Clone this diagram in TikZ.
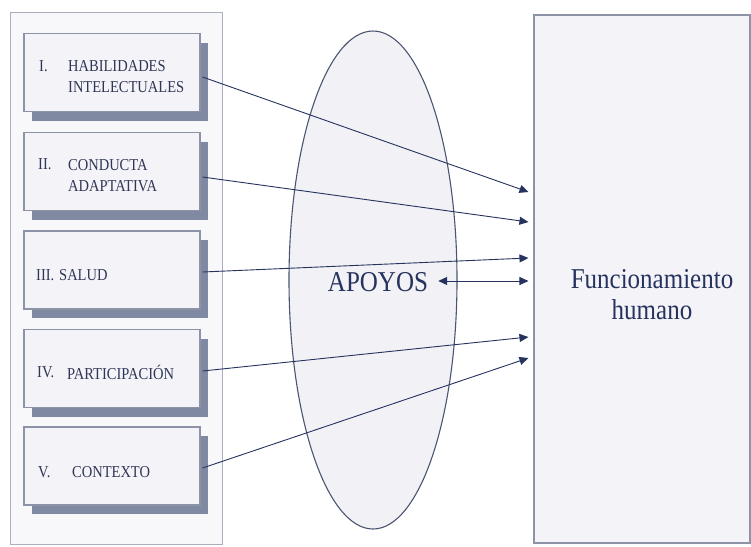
\documentclass[tikz,border=0pt]{standalone}
\usepackage{fontspec}
\setmainfont{Liberation Serif}
\newfontfamily\tnr{Liberation Serif}
\usetikzlibrary{shadows,arrows.meta}
\definecolor{outerfill}{HTML}{F8F8FB}
\definecolor{outerline}{HTML}{A9AFBF}
\definecolor{boxfill}{HTML}{F4F3F8}
\definecolor{boxline}{HTML}{8C93A7}
\definecolor{shadowc}{HTML}{7F89A2}
\definecolor{ellfill}{HTML}{F1F1F6}
\definecolor{ellline}{HTML}{4B5571}
\definecolor{txtc}{HTML}{2F3656}
\definecolor{navy}{HTML}{26335E}
\newcommand{\ystr}[1]{\scalebox{1}[1.15]{#1}}
\tikzset{
  outerbox/.style={draw=outerline, fill=outerfill, line width=0.9pt, minimum width=212pt, minimum height=532pt, inner sep=0pt},
  itembox/.style={draw=boxline, fill=boxfill, line width=1.1pt, minimum width=176pt, minimum height=78pt, inner sep=0pt,
    drop shadow={shadow xshift=8pt, shadow yshift=-9pt, fill=shadowc, opacity=1}},
  itemtxt/.style={anchor=west, inner sep=0pt, text=txtc, font=\tnr\fontsize{14.5}{21.5}\selectfont, align=left},
  bigtxt/.style={inner sep=0pt, text=navy, font=\tnr\fontsize{25}{31}\selectfont, align=center},
  conn/.style={draw=navy, line width=0.9pt, -{Triangle[length=9pt,width=8pt]}},
}
\begin{document}
\begin{tikzpicture}[x=1pt,y=-1pt]
\useasboundingbox (0,0) rectangle (751,546);
% outer left container
\node[outerbox] (outer) at (116,278) {};
% right box
\node[draw=boxline, fill=boxfill, line width=1.1pt, minimum width=216pt, minimum height=528pt, inner sep=0pt] (fh) at (642,279) {};
% ellipse
\draw[draw=ellline, fill=ellfill, line width=1.1pt] (373,280) ellipse [x radius=84, y radius=249];
% item boxes
\node[itembox] (b1) at (112,72.5) {};
\node[itembox] (b2) at (112,171.5) {};
\node[itembox] (b3) at (112,270) {};
\node[itembox] (b4) at (112,368.5) {};
\node[itembox] (b5) at (112,466) {};
% texts
\node[itemtxt] (n1) at (39,66) {\ystr{I.}};
\node[itemtxt] (t1) at (68,76.75) {\ystr{HABILIDADES}\\\ystr{INTELECTUALES}};
\node[itemtxt] (n2) at (38,164) {\ystr{II.}};
\node[itemtxt] (t2) at (68,175.75) {\ystr{CONDUCTA}\\\ystr{ADAPTATIVA}};
\node[itemtxt] (n3) at (36,275) {\ystr{III.}};
\node[itemtxt] (t3) at (59,275) {\ystr{SALUD}};
\node[itemtxt] (n4) at (37,372) {\ystr{IV.}};
\node[itemtxt] (t4) at (67,372) {\ystr{PARTICIPACIÓN}};
\node[itemtxt] (n5) at (38,472) {\ystr{V.}};
\node[itemtxt] (t5) at (72,472) {\ystr{CONTEXTO}};
\node[bigtxt] (apoyos) at (378,282) {\ystr{APOYOS}};
\node[bigtxt] (fhtxt) at (652,295) {\ystr{Funcionamiento}\\\ystr{humano}};
% connectors
\draw[conn] ([xshift=2pt,yshift=-4.5pt]b1.east) -- ([xshift=-5pt,yshift=87pt]fh.west);
\draw[conn] ([xshift=2pt,yshift=-5.5pt]b2.east) -- ([xshift=-5pt,yshift=57pt]fh.west);
\draw[conn] ([xshift=2pt,yshift=-2pt]b3.east) -- ([xshift=-5pt,yshift=21pt]fh.west);
\draw[conn] ([xshift=2pt,yshift=-2.5pt]b4.east) -- ([xshift=-5pt,yshift=-58pt]fh.west);
\draw[conn] ([xshift=2pt,yshift=-2pt]b5.east) -- ([xshift=-5pt,yshift=-79pt]fh.west);
\draw[conn, {Triangle[length=9pt,width=8pt]}-{Triangle[length=9pt,width=8pt]}] ([xshift=10pt,yshift=1pt]apoyos.east) -- ([xshift=-5pt,yshift=-2pt]fh.west);
\end{tikzpicture}
\end{document}
